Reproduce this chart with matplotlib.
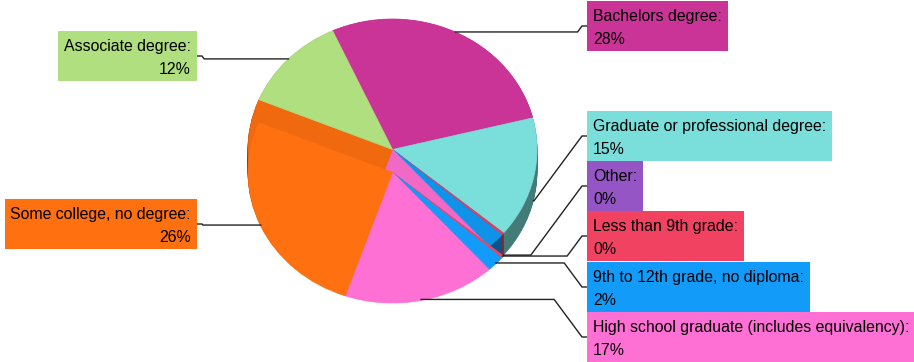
import numpy as np
import matplotlib.pyplot as plt
from matplotlib import font_manager
from matplotlib.colors import to_rgb
from matplotlib.patches import Rectangle

categories = ['Bachelors degree', 'Graduate or professional degree', 'Other',
              'Less than 9th grade', '9th to 12th grade, no diploma',
              'High school graduate (includes equivalency)',
              'Some college, no degree', 'Associate degree']
shares = [28, 15, 0, 0.3, 2, 17, 26, 12]
colors = ['#CB3497', '#7ADFDB', '#9655C4', '#F24261', '#129BF8',
          '#FF70D4', '#FF7010', '#B0DF80']

# label placement: side of the pie and vertical centre of the box (pixels)
label_side = ['r', 'r', 'r', 'r', 'r', 'r', 'l', 'l']
label_y = [26, 136, 186, 236, 287, 337, 224, 56]

W, H = 914, 362
cx, cy = 392.5, 149.5      # pie centre in pixels (from top)
rx, ry = 144.5, 130.5      # ellipse radii in pixels
depth = 22 / ry            # thickness in pie units
start = 114.5

fig = plt.figure(figsize=(W / 100, H / 100), dpi=100)
fig.patch.set_facecolor('white')

xl, yt, yb = 1.3, 1.3, 1.5
axp = fig.add_axes([(cx - xl * rx) / W, (H - cy - yb * ry) / H,
                    2 * xl * rx / W, (yt + yb) * ry / H])

def shade(c, f):
    return tuple(v * f for v in to_rgb(c))

def pie_layer(cols, off):
    wedges, _ = axp.pie(shares, colors=cols, startangle=start,
                        counterclock=False, center=(0, off),
                        wedgeprops=dict(linewidth=0.5), frame=True)
    for w in wedges:
        w.set_edgecolor(w.get_facecolor())
    return wedges

total = sum(shares)
cum = np.concatenate([[0], np.cumsum(shares)[:-1]])
mids = np.radians(start - 360 * (cum + np.array(shares) / 2) / total)
lower = np.sin(mids) < -0.35

side_cols = [shade(c, 0.55) for c in colors]
for off in np.linspace(-depth, -0.004, 24):
    pie_layer(side_cols, off)

top_cols = [shade(c, 0.94) if lo else c for c, lo in zip(colors, lower)]
tops = pie_layer(top_cols, 0)
# lit part of the front slices: same face pushed down, clipped to the slice
lit = pie_layer(colors, -23 / ry)
for w_top, w_lit, lo in zip(tops, lit, lower):
    if lo:
        w_lit.set_clip_path(w_top)
    else:
        w_lit.remove()

axp.set_aspect('auto')
axp.set_xlim(-xl, xl)
axp.set_ylim(-yb, yt)
axp.axis('off')

ov = fig.add_axes([0, 0, 1, 1])
ov.set_xlim(0, W)
ov.set_ylim(H, 0)
ov.axis('off')

installed = {f.name for f in font_manager.fontManager.ttflist}
family = ('Liberation Sans Narrow' if 'Liberation Sans Narrow' in installed
          else 'Liberation Sans')

fig.canvas.draw()
renderer = fig.canvas.get_renderer()
to_ov = ov.transData.inverted()

# size the labels so the longest first line is ~235 px wide
probe = ov.text(0, 0, 'Graduate or professional degree:', size=10, family=family)
fsize = 10 * 235 / probe.get_window_extent(renderer).width
probe.remove()
font = dict(family=family, size=fsize, linespacing=1.6, color='black')

slope = 1.35
for name, v, col, m, side, ty in zip(categories, shares, colors, mids,
                                      label_side, label_y):
    px, py = np.cos(m), np.sin(m)
    if py < 0:
        py -= depth
    ax_, ay_ = to_ov.transform(axp.transData.transform((px, py)))
    d = abs(ty - ay_) / slope
    txt = f'{name}:\n{v:.0f}%'
    if side == 'r':
        bx = 587
        e = 582
        xs = [ax_, max(e - d, ax_), e, bx]
        t = ov.text(bx + 6, ty + 2, txt, ha='left', va='center',
                    zorder=5, **font)
    else:
        bx = 197
        e = 202
        xs = [ax_, min(e + d, ax_), e, bx]
        t = ov.text(bx - 6, ty + 2, txt, ha='right', va='center',
                    multialignment='right', zorder=5, **font)
    ov.plot(xs, [ay_, ay_, ty, ty], color='#222222', lw=1.0,
            solid_joinstyle='miter', zorder=3)
    tw = t.get_window_extent(renderer).width
    x0 = bx if side == 'r' else bx - tw - 12
    ov.add_patch(Rectangle((x0, ty - 25), tw + 12, 50, facecolor=col,
                           edgecolor='none', zorder=4))

fig.savefig('out.png', dpi=100)
